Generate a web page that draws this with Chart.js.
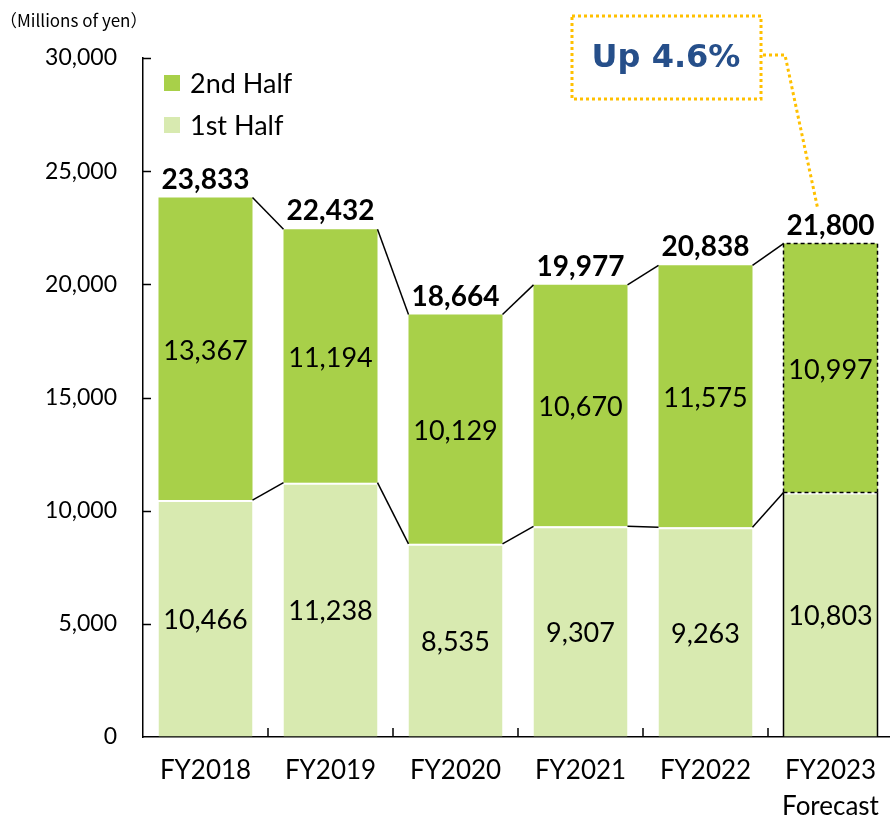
<!DOCTYPE html>
<html>
<head>
<meta charset="utf-8">
<script src="https://cdn.jsdelivr.net/npm/chart.js@4.4.0/dist/chart.umd.min.js"></script>
<style>
  html, body { margin: 0; padding: 0; background: #fff; overflow: hidden; }
  #wrap { position: absolute; left: 0; top: 0; width: 896px; height: 817px; }
</style>
</head>
<body>
<div id="wrap"><canvas id="salesChart" width="896" height="817"></canvas></div>
<script>
// Net sales by half-year (millions of yen)
const categories = ['FY2018', 'FY2019', 'FY2020', 'FY2021', 'FY2022', ['FY2023', 'Forecast']];
const firstHalf = [10466, 11238, 8535, 9307, 9263, 10803];
const secondHalf = [13367, 11194, 10129, 10670, 11575, 10997];
const totals = [23833, 22432, 18664, 19977, 20838, 21800];
const yTicks = [0, 5000, 10000, 15000, 20000, 25000, 30000];
const unitLabel = '（Millions of yen）';
const calloutText = 'Up 4.6%';
const forecastIndex = 5;

const FONT = 'Lato, "Noto Sans", sans-serif';
const GREEN_DARK = '#A8D049';
const GREEN_LIGHT = '#D8EAB0';
const ORANGE = '#FFC000';

const fmt = v => v.toLocaleString('en-US');

const overlayPlugin = {
    id: 'overlay',
    afterDatasetsDraw(chart) {
        const ctx = chart.ctx;
        const y = chart.scales.y;
        const metaFirst = chart.getDatasetMeta(0).data;
        const metaSecond = chart.getDatasetMeta(1).data;

        ctx.save();

        // connector lines between bars (totals and 1st half tops)
        ctx.strokeStyle = '#000';
        ctx.lineWidth = 1.5;
        for (let i = 0; i < categories.length - 1; i++) {
            const a = metaSecond[i], b = metaSecond[i + 1];
            ctx.beginPath();
            ctx.moveTo(a.x + a.width / 2, y.getPixelForValue(totals[i]));
            ctx.lineTo(b.x - b.width / 2, y.getPixelForValue(totals[i + 1]));
            ctx.stroke();
            const c = metaFirst[i], d = metaFirst[i + 1];
            ctx.beginPath();
            ctx.moveTo(c.x + c.width / 2, y.getPixelForValue(firstHalf[i]));
            ctx.lineTo(d.x - d.width / 2, y.getPixelForValue(firstHalf[i + 1]));
            ctx.stroke();
        }

        // forecast bar outline: dashed for 2nd half, solid sides for 1st half
        const fb = metaSecond[forecastIndex];
        const left = fb.x - fb.width / 2, right = fb.x + fb.width / 2;
        const topY = y.getPixelForValue(totals[forecastIndex]);
        const midY = y.getPixelForValue(firstHalf[forecastIndex]);
        const baseY = y.getPixelForValue(0);
        ctx.lineWidth = 1.5;
        ctx.setLineDash([4, 3]);
        ctx.beginPath();
        ctx.moveTo(left, midY); ctx.lineTo(left, topY); ctx.lineTo(right, topY); ctx.lineTo(right, midY);
        ctx.moveTo(left, midY); ctx.lineTo(right, midY);
        ctx.stroke();
        ctx.setLineDash([]);
        ctx.beginPath();
        ctx.moveTo(left, midY); ctx.lineTo(left, baseY);
        ctx.moveTo(right, midY); ctx.lineTo(right, baseY);
        ctx.stroke();

        // segment value labels
        ctx.fillStyle = '#000';
        ctx.textAlign = 'center';
        ctx.textBaseline = 'middle';
        ctx.font = '27px ' + FONT;
        [metaFirst, metaSecond].forEach((meta, di) => {
            const vals = di === 0 ? firstHalf : secondHalf;
            meta.forEach((el, i) => {
                ctx.fillText(fmt(vals[i]), el.x, (el.y + el.base) / 2 + 2);
            });
        });

        // total labels
        ctx.font = 'bold 28px ' + FONT;
        ctx.textBaseline = 'alphabetic';
        metaSecond.forEach((el, i) => {
            ctx.fillText(fmt(totals[i]), el.x, y.getPixelForValue(totals[i]) - 9);
        });

        // legend
        const ca = chart.chartArea;
        const legendItems = [
            { text: '2nd Half', color: GREEN_DARK, cy: 83 },
            { text: '1st Half', color: GREEN_LIGHT, cy: 125 }
        ];
        ctx.textAlign = 'left';
        ctx.textBaseline = 'middle';
        ctx.font = '27px ' + FONT;
        legendItems.forEach(it => {
            ctx.fillStyle = it.color;
            ctx.fillRect(ca.left + 21, it.cy - 8, 16, 16);
            ctx.fillStyle = '#000';
            ctx.fillText(it.text, ca.left + 47, it.cy + 1);
        });

        // callout box
        ctx.strokeStyle = ORANGE;
        ctx.lineWidth = 3;
        ctx.setLineDash([3, 3]);
        ctx.strokeRect(572, 16, 189, 83);
        ctx.beginPath();
        ctx.moveTo(763, 55);
        ctx.lineTo(785, 55);
        ctx.lineTo(fb.x - 13, topY - 36);
        ctx.stroke();
        ctx.setLineDash([]);
        ctx.fillStyle = '#264F8A';
        ctx.textAlign = 'center';
        ctx.font = 'bold 32px "DejaVu Sans", sans-serif';
        ctx.fillText(calloutText, 666, 59);

        ctx.restore();
    },
    afterDraw(chart) {
        const ctx = chart.ctx;
        const { x, y } = chart.scales;
        const ca = chart.chartArea;
        ctx.save();
        ctx.strokeStyle = '#000';
        ctx.lineWidth = 1.5;
        ctx.beginPath();
        // inward y ticks
        yTicks.slice(1).forEach(v => {
            const py = Math.round(y.getPixelForValue(v)) + 0.5;
            ctx.moveTo(ca.left, py);
            ctx.lineTo(ca.left + 8, py);
        });
        // inward x ticks at category boundaries
        for (let i = 1; i < categories.length; i++) {
            const px = (x.getPixelForValue(i - 1) + x.getPixelForValue(i)) / 2;
            ctx.moveTo(px, ca.bottom);
            ctx.lineTo(px, ca.bottom - 9);
        }
        ctx.stroke();

        // unit label
        ctx.fillStyle = '#000';
        ctx.textAlign = 'left';
        ctx.textBaseline = 'alphabetic';
        ctx.font = '17px "Noto Sans CJK JP", ' + FONT;
        ctx.fillText(unitLabel, 0, 27);
        ctx.restore();
    }
};

function init() {
    const ctx = document.getElementById('salesChart').getContext('2d');
    new Chart(ctx, {
        type: 'bar',
        data: {
            labels: categories,
            datasets: [
                {
                    label: '1st Half', data: firstHalf, backgroundColor: GREEN_LIGHT,
                    borderColor: '#fff', borderWidth: { top: 2, left: 0, right: 0, bottom: 0 }, borderSkipped: false,
                    categoryPercentage: 1, barPercentage: 0.752
                },
                {
                    label: '2nd Half', data: secondHalf, backgroundColor: GREEN_DARK,
                    borderWidth: 0, categoryPercentage: 1, barPercentage: 0.752
                }
            ]
        },
        options: {
            responsive: false, animation: false, devicePixelRatio: 1,
            layout: { padding: { top: 58, left: 0, right: 3, bottom: 0 } },
            scales: {
                x: {
                    stacked: true,
                    grid: { drawOnChartArea: false, drawTicks: false },
                    border: { color: '#000', width: 1.5 },
                    ticks: { color: '#000', font: { family: FONT, size: 26, lineHeight: 1.38 }, padding: 16, maxRotation: 0 },
                    afterFit: s => { s.height = 80; }
                },
                y: {
                    stacked: true, min: 0, max: 30000,
                    grid: { drawOnChartArea: false, drawTicks: false },
                    border: { color: '#000', width: 1.5 },
                    ticks: { stepSize: 5000, color: '#000', font: { family: FONT, size: 23 }, padding: 26, callback: v => fmt(v) },
                    afterFit: s => { s.width = 143; }
                }
            },
            plugins: { legend: { display: false }, tooltip: { enabled: false } }
        },
        plugins: [overlayPlugin]
    });
}

document.addEventListener('DOMContentLoaded', init);
</script>
</body>
</html>
